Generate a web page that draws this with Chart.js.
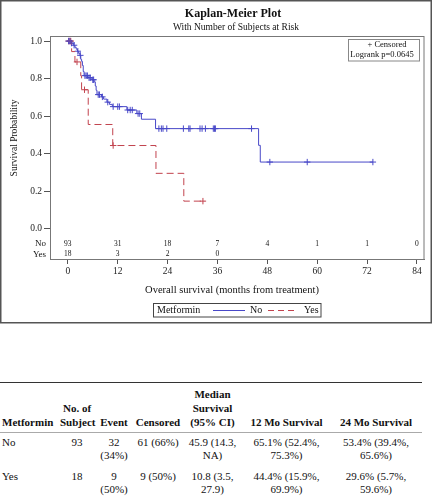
<!DOCTYPE html>
<html><head><meta charset="utf-8">
<script src="https://cdn.jsdelivr.net/npm/chart.js@4.4.1/dist/chart.umd.min.js"></script>
<style>
html,body{margin:0;padding:0;background:#fff;}
#wrap{position:absolute;left:0;top:0;width:432px;height:330px;}
#km{display:block;}
table{position:absolute;left:0;top:382px;width:422px;border-collapse:collapse;table-layout:fixed;font-family:"Liberation Serif","Times New Roman",serif;font-size:11px;color:#111;}
thead tr{border-top:1.5px solid #333;border-bottom:1px solid #aaa;}
tbody tr:last-child{border-bottom:1.5px solid #333;}
th{font-weight:bold;line-height:14px;vertical-align:bottom;padding:4px 0 3px 0;text-align:center;}
td{line-height:13px;vertical-align:top;padding:3px 2px 5px 2px;text-align:center;}
tbody tr:last-child td{padding-bottom:4px;}
td.c2{padding-left:6px;padding-right:6px;}
th.l,td.l{text-align:left;padding-left:2px;}
</style>
</head><body>
<div id="wrap"><canvas id="km" width="432" height="330"></canvas></div>
<table id="tbl">
<colgroup><col style="width:60px"><col style="width:34px"><col style="width:40px"><col style="width:48px"><col style="width:61px"><col style="width:87px"><col style="width:92px"></colgroup>
<thead><tr id="hdr"></tr></thead>
<tbody id="tb"></tbody>
</table>
<script>
// ---------- data ----------
const groups = ["No", "Yes"];
const xTickValues = [0, 12, 24, 36, 48, 60, 72, 84];
const yTickValues = [0, 0.2, 0.4, 0.6, 0.8, 1.0];

const noTimes = [0, 0.8, 1.3, 1.7, 2.0, 2.3, 2.6, 2.9, 3.1, 3.3, 3.5, 3.7, 3.9, 4.8, 5.8, 6.3, 6.6, 6.8, 7.0, 8.1, 8.6, 9.4, 10.0, 10.7, 14.2, 16.6, 17.7, 21.1, 45.9, 46.3, 73.4];
const noSurv  = [1.0, 0.989, 0.978, 0.967, 0.957, 0.946, 0.935, 0.924, 0.903, 0.892, 0.870, 0.838, 0.816, 0.805, 0.794, 0.783, 0.761, 0.738, 0.715, 0.703, 0.691, 0.675, 0.663, 0.651, 0.633, 0.614, 0.584, 0.534, 0.445, 0.356, 0.356];
const noCensor = [0.2, 0.5, 0.9, 1.5, 2.4, 3.0, 4.1, 4.4, 4.7, 5.1, 5.4, 6.0, 6.2, 7.3, 7.6, 8.3, 9.6, 10.9, 12.0, 12.4, 14.4, 15.0, 15.5, 16.9, 17.3, 21.9, 22.5, 22.9, 23.8, 27.8, 29.1, 29.4, 31.8, 32.3, 33.1, 35.0, 35.3, 35.5, 44.2, 48.6, 57.6, 73.4];

const yesTimes = [0, 0.9, 1.7, 3.1, 3.3, 4.9, 10.8, 21.2, 27.9, 33.0];
const yesSurv  = [1.0, 0.944, 0.889, 0.815, 0.741, 0.556, 0.444, 0.296, 0.148, 0.148];
const yesCensor = [0.2, 0.5, 0.7, 2.2, 4.0, 10.9, 32.5];

const riskTimes = [0, 12, 24, 36, 48, 60, 72, 84];
const riskNo  = [93, 31, 18, 7, 4, 1, 1, 0];
const riskYes = [18, 3, 2, 0];

const tableHeader = ["Metformin", "No. of Subject", "Event", "Censored", "Median Survival (95% CI)", "12 Mo Survival", "24 Mo Survival"];
const tableRows = [
  ["No", "93", "32 (34%)", "61 (66%)", "45.9 (14.3, NA)", "65.1% (52.4%, 75.3%)", "53.4% (39.4%, 65.6%)"],
  ["Yes", "18", "9 (50%)", "9 (50%)", "10.8 (3.5, 27.9)", "44.4% (15.9%, 69.9%)", "29.6% (5.7%, 59.6%)"]
];
const logrankText = "Logrank p=0.0645";

// ---------- table ----------
const hdr = document.getElementById('hdr');
tableHeader.forEach((h, i) => { const th = document.createElement('th'); th.textContent = h; if (i === 0) th.className = 'l'; hdr.appendChild(th); });
const tb = document.getElementById('tb');
tableRows.forEach(r => { const tr = document.createElement('tr'); r.forEach((c, i) => { const td = document.createElement('td'); td.textContent = c; td.className = i === 0 ? 'l' : 'c' + i; tr.appendChild(td); }); tb.appendChild(tr); });

// ---------- chart ----------
const BLUE = '#4848c8', RED = '#c2434e';
const SERIF = "'Liberation Serif', 'Times New Roman', serif";
function pts(t, s) { return t.map((v, i) => ({x: v, y: s[i]})); }
function survAt(t, s, x) { let v = s[0]; for (let i = 0; i < t.length; i++) if (t[i] <= x) v = s[i]; return v; }
function cens(ct, t, s) { return ct.map(x => ({x: x, y: survAt(t, s, x)})); }

const deco = {
  id: 'deco',
  afterDraw(chart) {
    const ctx = chart.ctx, ca = chart.chartArea, xs = chart.scales.x;
    ctx.save();
    // frame
    ctx.strokeStyle = '#777'; ctx.lineWidth = 1;
    ctx.strokeRect(ca.left + 0.5, ca.top + 0.5, ca.right - ca.left - 0.5, ca.bottom - ca.top);
    // outer border
    ctx.strokeStyle = '#555'; ctx.lineWidth = 1.5;
    ctx.strokeRect(0.75, 0.75, 430.5, 322);
    ctx.fillStyle = '#111'; ctx.textBaseline = 'middle';
    // titles
    ctx.textAlign = 'center';
    ctx.font = 'bold 12px ' + SERIF; ctx.fillText('Kaplan-Meier Plot', 233, 14);
    ctx.font = '9.5px ' + SERIF; ctx.fillText('With Number of Subjects at Risk', 236, 27);
    // y title
    ctx.save(); ctx.translate(14, 138); ctx.rotate(-Math.PI / 2);
    ctx.font = '9.5px ' + SERIF; ctx.fillText('Survival Probability', 0, 0); ctx.restore();
    // x title
    ctx.font = '10.5px ' + SERIF; ctx.fillText('Overall survival (months from treatment)', 232, 290);
    // at risk
    ctx.font = '7.5px ' + SERIF;
    riskNo.forEach((n, i) => ctx.fillText(String(n), xs.getPixelForValue(riskTimes[i]), 244));
    riskYes.forEach((n, i) => ctx.fillText(String(n), xs.getPixelForValue(riskTimes[i]), 254.5));
    ctx.textAlign = 'right'; ctx.font = '9px ' + SERIF;
    ctx.fillText(groups[0], 46, 244); ctx.fillText(groups[1], 46, 254.5);
    // inset legend
    ctx.strokeStyle = '#888'; ctx.lineWidth = 1;
    ctx.strokeRect(348.5, 39.5, 71, 21.5);
    ctx.textAlign = 'center'; ctx.font = '8.5px ' + SERIF;
    ctx.fillText('+ Censored', 387, 44.5);
    ctx.fillText(logrankText, 382, 55);
    // bottom legend
    ctx.strokeStyle = '#444';
    ctx.strokeRect(153.5, 303.5, 167.5, 13.5);
    ctx.textAlign = 'left'; ctx.font = '10px ' + SERIF;
    ctx.fillText('Metformin', 157, 310.5);
    ctx.fillText(groups[0], 250, 310.5);
    ctx.fillText(groups[1], 304, 310.5);
    ctx.lineWidth = 1;
    ctx.strokeStyle = BLUE; ctx.beginPath(); ctx.moveTo(213, 310.5); ctx.lineTo(245, 310.5); ctx.stroke();
    ctx.strokeStyle = RED; ctx.setLineDash([6, 4]); ctx.beginPath(); ctx.moveTo(268, 310.5); ctx.lineTo(298, 310.5); ctx.stroke();
    ctx.restore();
  }
};

new Chart(document.getElementById('km'), {
  type: 'scatter',
  data: {
    datasets: [
      {label: groups[0], type: 'line', data: pts(noTimes, noSurv), stepped: true, borderColor: BLUE, borderWidth: 1, pointRadius: 0, fill: false},
      {label: groups[1], type: 'line', data: pts(yesTimes, yesSurv), stepped: true, borderColor: RED, borderWidth: 1, borderDash: [7, 4], pointRadius: 0, fill: false},
      {label: 'cNo', data: cens(noCensor, noTimes, noSurv), pointStyle: 'cross', pointRadius: 3.2, borderColor: BLUE, borderWidth: 1, backgroundColor: BLUE},
      {label: 'cYes', data: cens(yesCensor, yesTimes, yesSurv), pointStyle: 'cross', pointRadius: 3.2, borderColor: RED, borderWidth: 1, backgroundColor: RED}
    ]
  },
  options: {
    responsive: false, animation: false, devicePixelRatio: 1,
    layout: {padding: {top: 36, right: 8, left: 0, bottom: 0}, autoPadding: false},
    plugins: {legend: {display: false}, tooltip: {enabled: false}, title: {display: false}},
    scales: {
      x: {
        type: 'linear', min: -4.3, max: 85.7,
        afterBuildTicks: s => { s.ticks = xTickValues.map(v => ({value: v})); },
        afterFit: s => { s.height = 71; },
        ticks: {font: {family: SERIF, size: 9.5}, color: '#222', padding: 2, maxRotation: 0, autoSkip: false},
        grid: {drawOnChartArea: false, drawTicks: true, tickLength: 5, color: '#555'},
        border: {display: true, color: '#777'}
      },
      y: {
        type: 'linear', min: -0.16, max: 1.027,
        afterBuildTicks: s => { s.ticks = yTickValues.map(v => ({value: v})); },
        afterFit: s => { s.width = 50; },
        ticks: {font: {family: SERIF, size: 9.5}, color: '#222', padding: 2, callback: v => Number(v).toFixed(1)},
        grid: {drawOnChartArea: false, drawTicks: true, tickLength: 6, color: '#555'},
        border: {display: true, color: '#777'}
      }
    }
  },
  plugins: [deco]
});
</script>
</body></html>
